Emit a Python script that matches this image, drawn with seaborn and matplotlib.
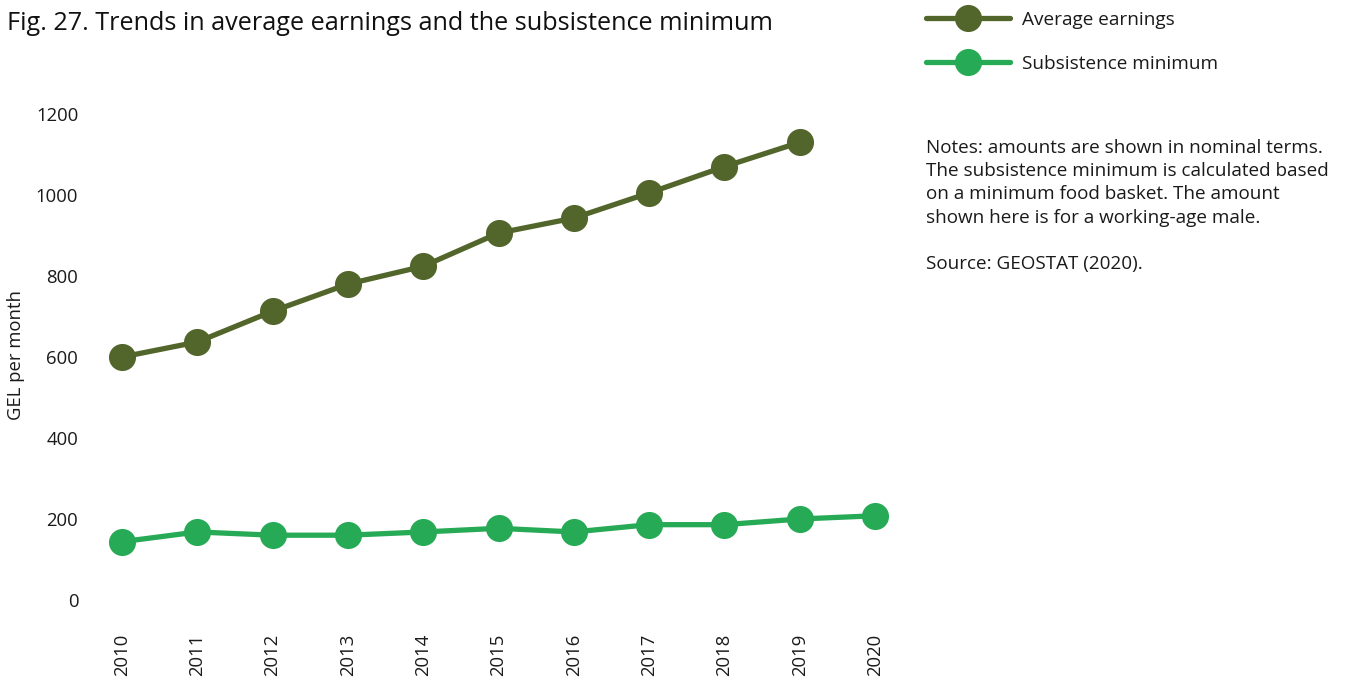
import matplotlib
matplotlib.use("Agg")
import matplotlib.pyplot as plt
import seaborn as sns
import pandas as pd

years_avg = [2010, 2011, 2012, 2013, 2014, 2015, 2016, 2017, 2018, 2019]
avg_earnings = [600, 637, 713, 780, 824, 906, 943, 1005, 1070, 1130]
years_sub = [2010, 2011, 2012, 2013, 2014, 2015, 2016, 2017, 2018, 2019, 2020]
subsistence = [144, 168, 160, 160, 168, 177, 168, 186, 186, 200, 208]
series_names = ["Average earnings", "Subsistence minimum"]
colors = ["#52652a", "#27aa55"]
yticks = [0, 200, 400, 600, 800, 1000, 1200]

df = pd.concat([
    pd.DataFrame({"year": years_avg, "value": avg_earnings, "series": series_names[0]}),
    pd.DataFrame({"year": years_sub, "value": subsistence, "series": series_names[1]}),
])

sns.set_theme(style="white")
plt.rcParams["font.family"] = ["Open Sans", "DejaVu Sans"]

W, H = 1347, 681
fig = plt.figure(figsize=(W / 100, H / 100), dpi=100)
ax_l, ax_r, ax_t, ax_b = 95, 905, 95, 618
ax = fig.add_axes([ax_l / W, 1 - ax_b / H, (ax_r - ax_l) / W, (ax_b - ax_t) / H])

sns.lineplot(data=df, x="year", y="value", hue="series", palette=colors,
             hue_order=series_names, marker="o", markersize=19.5,
             markeredgewidth=0, linewidth=3.8, ax=ax)

ppy = (875 - 122) / 10
ax.set_xlim(2010 - (122 - ax_l) / ppy, 2020 + (ax_r - 875) / ppy)
ppu = (600 - 114) / 1200
ax.set_ylim(-(ax_b - 600) / ppu, 1200 + (114 - ax_t) / ppu)

tc = "#1a1a1a"
ax.set_xticks(years_sub)
ax.set_xticklabels([str(y) for y in years_sub], rotation=90, fontsize=13.3, color=tc)
ax.set_yticks(yticks)
ax.set_yticklabels([str(v) for v in yticks], fontsize=13.3, color=tc)
ax.tick_params(axis="both", length=0)
ax.tick_params(axis="y", pad=12)
ax.tick_params(axis="x", pad=11)
ax.set_xlabel("")
ax.set_ylabel("GEL per month", fontsize=13.3, color=tc)
ax.yaxis.set_label_coords(-(ax_l - 25) / (ax_r - ax_l), (ax_b - 355) / (ax_b - ax_t))
sns.despine(ax=ax, left=True, bottom=True)

sns.move_legend(ax, "upper left", bbox_to_anchor=(909 / W, 1 + 6 / H),
                bbox_transform=fig.transFigure, frameon=False, title=None,
                fontsize=13.7, handlelength=4.4, handletextpad=0.62,
                labelspacing=1.35, labelcolor=tc)

fig.text(7 / W, 1 - 24 / H, "Fig. 27. Trends in average earnings and the subsistence minimum",
         fontsize=18.2, va="center", ha="left", color="#111111")

notes = ("Notes: amounts are shown in nominal terms.\n"
         "The subsistence minimum is calculated based\n"
         "on a minimum food basket. The amount\n"
         "shown here is for a working-age male.\n"
         "\n"
         "Source: GEOSTAT (2020).")
fig.text(926 / W, 1 - 139 / H, notes, fontsize=13.6, va="top", ha="left",
         color=tc, linespacing=1.37)

fig.savefig("out.png", dpi=100)
